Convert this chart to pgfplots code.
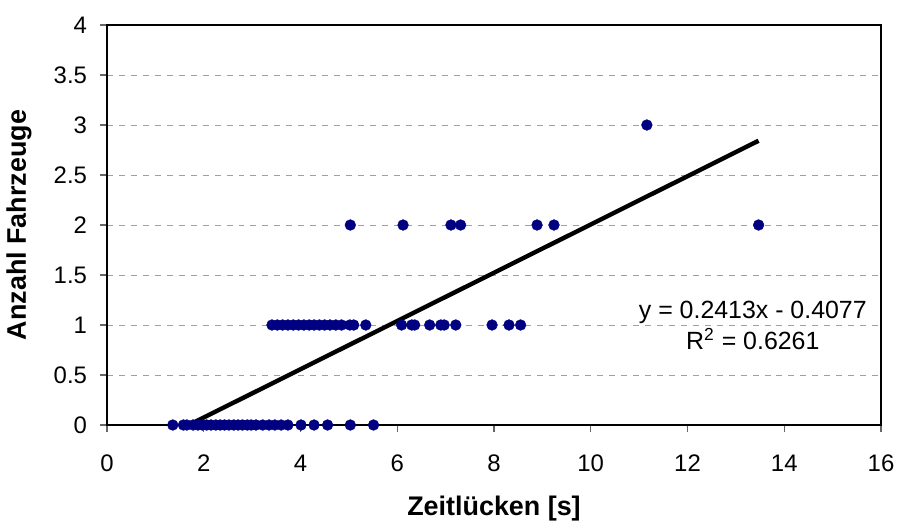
\documentclass[border=0pt]{standalone}
\usepackage{fontspec}
\setmainfont{Liberation Sans}
\usepackage{pgfplots}
\pgfplotsset{compat=1.18}
\definecolor{dotblue}{HTML}{000080}
\definecolor{gridgray}{HTML}{A0A0A0}

\pgfplotstableread{
x y
1.36 0
1.58 0
1.65 0
1.78 0
1.88 0
1.97 0
2.06 0
2.15 0
2.25 0
2.34 0
2.43 0
2.52 0
2.62 0
2.71 0
2.80 0
2.90 0
2.98 0
3.08 0
3.22 0
3.35 0
3.47 0
3.60 0
3.74 0
4.01 0
4.28 0
4.56 0
5.03 0
5.51 0
3.41 1
3.52 1
3.63 1
3.74 1
3.85 1
3.96 1
4.07 1
4.18 1
4.28 1
4.39 1
4.50 1
4.61 1
4.73 1
4.85 1
5.02 1
5.10 1
5.35 1
6.09 1
6.30 1
6.36 1
6.67 1
6.90 1
6.97 1
7.21 1
7.96 1
8.31 1
8.55 1
5.03 2
6.12 2
7.11 2
7.31 2
8.89 2
9.24 2
13.47 2
11.16 3
}\gaps

\begin{document}
\begin{tikzpicture}[x=1bp,y=1bp]
% page = 899x526 px at 0.5bp per px; axis box 107..881 x 25..425 px
\useasboundingbox (-53.5bp,-50.5bp) rectangle (396bp,212.5bp);
\begin{axis}[
    at={(0,0)}, anchor=south west,
    scale only axis,
    width=387bp,
    height=200bp,
    xmin=0, xmax=16,
    ymin=0, ymax=4,
    xtick={0,2,...,16},
    ytick={0,0.5,...,4},
    tick align=outside,
    tick style={gray!80!black, line width=0.6pt},
    major tick length=3.5bp,
    axis line style={black, line width=0.6pt},
    ymajorgrids=true,
    grid style={dashed, gridgray, line width=0.5pt},
    ticklabel style={font=\fontsize{12}{14}\selectfont},
    xticklabel style={yshift=-8bp},
    yticklabel style={xshift=-3bp},
    /pgf/number format/assume math mode=true,
    xtick pos=bottom,
    ytick pos=left,
    xlabel={\bfseries Zeitlücken [s]},
    ylabel={\bfseries Anzahl Fahrzeuge},
    label style={font=\fontsize{13.5}{15}\selectfont},
    xlabel style={at={([yshift=-42bp]axis description cs:0.5,0)}, anchor=center},
    ylabel style={at={([xshift=-44bp]axis description cs:0,0.5)}, anchor=center},
    clip=false,
]
\addplot[only marks, mark=*, mark size=2.7bp, draw=dotblue, fill=dotblue, mark options={line width=0.2pt}] table[x=x,y=y] {\gaps};
\addplot[black, line width=2.2pt] coordinates {(1.69,0.0001) (13.47,2.8426)};
\node[align=center, font=\fontsize{12.5}{15.5bp}\selectfont] at (axis cs:13.35,1.0)
  {y = 0.2413x - 0.4077\\R\textsuperscript{2} = 0.6261};
\end{axis}
\end{tikzpicture}
\end{document}
